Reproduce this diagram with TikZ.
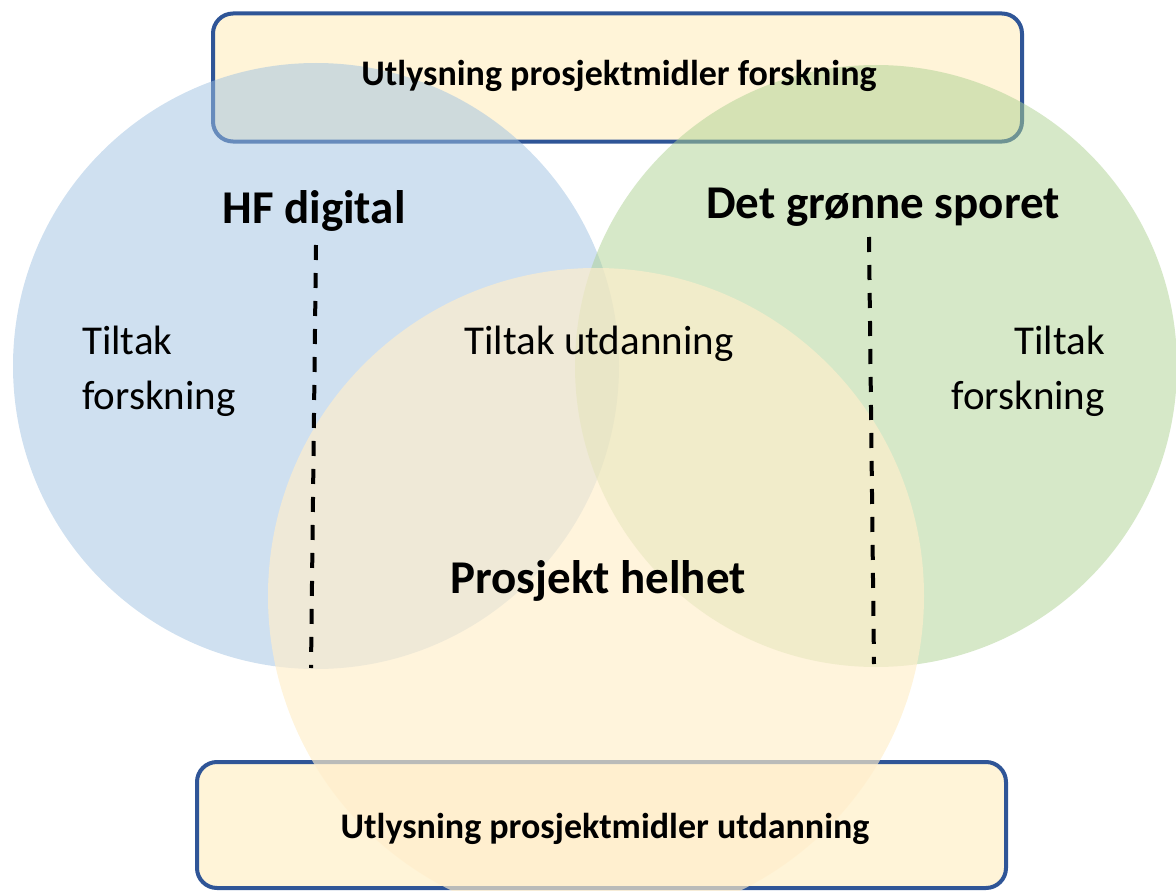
\documentclass[tikz,border=0pt]{standalone}
\usepackage{fontspec}
\setmainfont{Carlito}
\definecolor{boxfill}{RGB}{255,244,216}
\definecolor{boxline}{HTML}{2F5597}
\definecolor{cblue}{RGB}{159,193,225}
\definecolor{cgreen}{RGB}{173,209,145}
\definecolor{cyellow}{RGB}{255,238,203}
\tikzset{
  fundbox/.style={draw=boxline, line width=4pt, fill=boxfill, rounded corners=20pt,
    minimum width=809pt, minimum height=128pt, inner sep=0pt},
  ring/.style={circle, inner sep=0pt, fill opacity=0.5},
  boxtext/.style={font=\fontsize{36}{40}\selectfont\bfseries, anchor=base},
  headtext/.style={font=\fontsize{47}{52}\selectfont\bfseries, anchor=base},
  plain/.style={font=\fontsize{41}{55}\selectfont, anchor=base, inner sep=0pt},
  divider/.style={line width=4pt, dash pattern=on 15pt off 13pt}
}
\begin{document}
\begin{tikzpicture}[x=1pt, y=-1pt]
\useasboundingbox (0,0) rectangle (1176,891);
% boxes
\node[fundbox] (topbox) at (617.5,77.5) {};
\node[fundbox, minimum height=126pt] (botbox) at (601.5,825) {};
% circles
\node[ring, fill=cblue, minimum size=606pt] (hf) at (316,366) {};
\node[ring, fill=cgreen, minimum size=602pt] (gr) at (876,366) {};
\node[ring, fill=cyellow, fill opacity=0.67, minimum size=656pt] (ph) at (596,596) {};
% dashed dividers
\coordinate (l1) at (316,245);
\coordinate (l2) at (311,668);
\coordinate (r1) at (869,237);
\coordinate (r2) at (874,664);
\draw[divider] (l1) -- (l2);
\draw[divider] (r1) -- (r2);
% texts
\node[boxtext] (toptxt) at (619,85) {Utlysning prosjektmidler forskning};
\node[boxtext] (bottxt) at (605,838) {Utlysning prosjektmidler utdanning};
\node[headtext] (hft) at (314,223) {HF digital};
\node[headtext] (grt) at (883,218) {Det grønne sporet};
\node[headtext] (pht) at (598,593) {Prosjekt helhet};
\node[plain] (tu) at (599,354) {Tiltak utdanning};
\node[plain, align=left, anchor=north west] (tfl) at (82,326) {Tiltak\\forskning};
\node[plain, align=right, anchor=north east] (tfr) at (1105,326) {Tiltak\\forskning};
\end{tikzpicture}
\end{document}
